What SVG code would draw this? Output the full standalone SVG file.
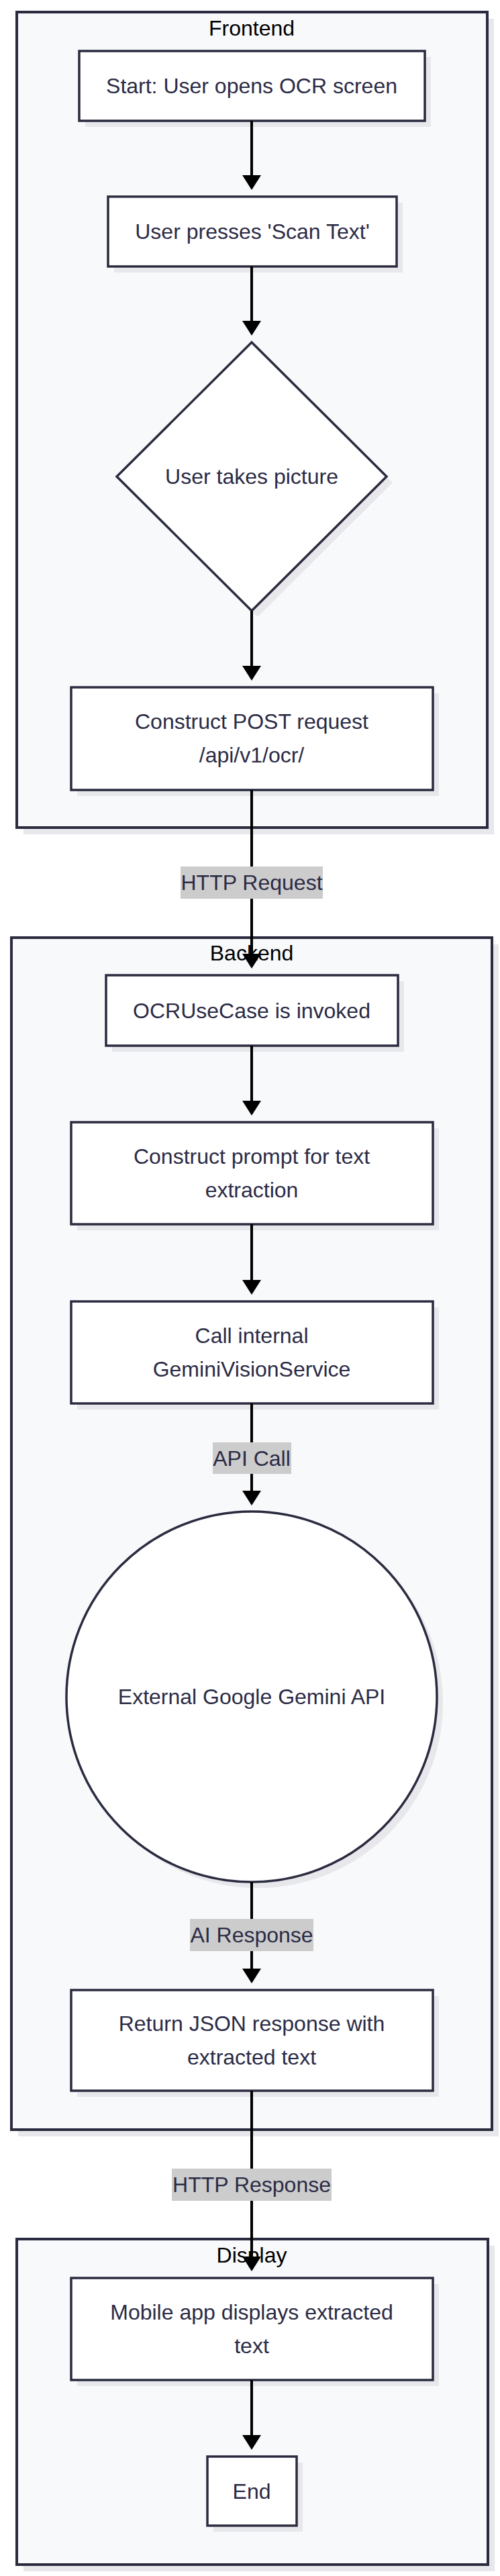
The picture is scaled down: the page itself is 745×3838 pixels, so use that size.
<svg xmlns="http://www.w3.org/2000/svg" width="745" height="3838" viewBox="0 0 745 3838">
<defs>
<style>
.cl{fill:#f8f9fb;stroke:#2b2b40;stroke-width:4}
.sh{fill:#e8e8ec;stroke:none}
.shape{fill:#ffffff;stroke:#2b2b40;stroke-width:3.5}
.t{font-family:"Liberation Sans",Arial,sans-serif;font-size:32px;fill:#2b2b45;text-anchor:middle}
.ct{fill:#000000}
.edge{stroke:#000000;stroke-width:4;fill:none;marker-end:url(#arrow)}
.elbg{fill:#cccccc}
</style>
<marker id="arrow" viewBox="0 0 22 28" refX="12" refY="14" markerWidth="22" markerHeight="28" markerUnits="userSpaceOnUse" orient="auto">
<path d="M0,0 L22,14 L0,28 z" fill="#000000"/>
</marker>
</defs>
<rect width="745" height="3838" fill="#ffffff"/>

<g id="cluster-frontend">
<rect class="sh" x="35" y="28" width="701" height="1215"/>
<rect class="cl" x="25" y="18" width="701" height="1215"/>
<text class="t ct" x="375" y="53">Frontend</text>
</g>
<g id="cluster-backend">
<rect class="sh" x="27" y="1407" width="716" height="1776"/>
<rect class="cl" x="17" y="1397" width="716" height="1776"/>
<text class="t ct" x="375" y="1431">Backend</text>
</g>
<g id="cluster-display">
<rect class="sh" x="35" y="3346" width="702" height="485"/>
<rect class="cl" x="25" y="3336" width="702" height="485"/>
<text class="t ct" x="375" y="3371">Display</text>
</g>

<g id="node-start">
<rect class="sh" x="127" y="85" width="515" height="104"/>
<rect class="shape" x="118" y="76" width="515" height="104"/>
<text class="t" x="375" y="139">Start: User opens OCR screen</text>
</g>
<g id="node-scan">
<rect class="sh" x="170" y="302" width="430" height="104"/>
<rect class="shape" x="161" y="293" width="430" height="104"/>
<text class="t" x="376" y="356">User presses 'Scan Text'</text>
</g>
<g id="node-picture">
<polygon class="sh" points="384,519 585,719 384,919 183,719"/>
<polygon class="shape" points="375,510 576,710 375,910 174,710"/>
<text class="t" x="375" y="721">User takes picture</text>
</g>
<g id="node-post">
<rect class="sh" x="115" y="1033" width="539" height="153"/>
<rect class="shape" x="106" y="1024" width="539" height="153"/>
<text class="t" x="375" y="1086">Construct POST request</text>
<text class="t" x="375" y="1136">/api/v1/ocr/</text>
</g>
<g id="node-usecase">
<rect class="sh" x="167" y="1462" width="435" height="105"/>
<rect class="shape" x="158" y="1453" width="435" height="105"/>
<text class="t" x="375" y="1517">OCRUseCase is invoked</text>
</g>
<g id="node-prompt">
<rect class="sh" x="115" y="1681" width="539" height="152"/>
<rect class="shape" x="106" y="1672" width="539" height="152"/>
<text class="t" x="375" y="1734">Construct prompt for text</text>
<text class="t" x="375" y="1784">extraction</text>
</g>
<g id="node-service">
<rect class="sh" x="115" y="1948" width="539" height="152"/>
<rect class="shape" x="106" y="1939" width="539" height="152"/>
<text class="t" x="375" y="2001">Call internal</text>
<text class="t" x="375" y="2051">GeminiVisionService</text>
</g>
<g id="node-gemini">
<circle class="sh" cx="384" cy="2537" r="276"/>
<circle class="shape" cx="375" cy="2528" r="276"/>
<text class="t" x="375" y="2539">External Google Gemini API</text>
</g>
<g id="node-return">
<rect class="sh" x="115" y="2974" width="539" height="150"/>
<rect class="shape" x="106" y="2965" width="539" height="150"/>
<text class="t" x="375" y="3026">Return JSON response with</text>
<text class="t" x="375" y="3076">extracted text</text>
</g>
<g id="node-mobile">
<rect class="sh" x="115" y="3403" width="539" height="152"/>
<rect class="shape" x="106" y="3394" width="539" height="152"/>
<text class="t" x="375" y="3456">Mobile app displays extracted</text>
<text class="t" x="375" y="3506">text</text>
</g>
<g id="node-end">
<rect class="sh" x="318" y="3669" width="133" height="103"/>
<rect class="shape" x="309" y="3660" width="133" height="103"/>
<text class="t" x="375" y="3723">End</text>
</g>

<g id="connectors">
<path class="edge" d="M375,180 V273"/>
<path class="edge" d="M375,397 V490"/>
<path class="edge" d="M375,910 V1004"/>
<path class="edge" d="M375,1177 V1433"/>
<path class="edge" d="M375,1558 V1652"/>
<path class="edge" d="M375,1824 V1919"/>
<path class="edge" d="M375,2091 V2233"/>
<path class="edge" d="M375,2804 V2945"/>
<path class="edge" d="M375,3115 V3374"/>
<path class="edge" d="M375,3546 V3640"/>
<g id="edge-labels">
<rect class="elbg" x="269" y="1291" width="212" height="48"/>
<text class="t" x="375" y="1326">HTTP Request</text>
<rect class="elbg" x="317" y="2149" width="117" height="47"/>
<text class="t" x="375" y="2184">API Call</text>
<rect class="elbg" x="283" y="2859" width="184" height="48"/>
<text class="t" x="375" y="2894">AI Response</text>
<rect class="elbg" x="256" y="3231" width="238" height="48"/>
<text class="t" x="375" y="3266">HTTP Response</text>
</g>
</g>
</svg>
